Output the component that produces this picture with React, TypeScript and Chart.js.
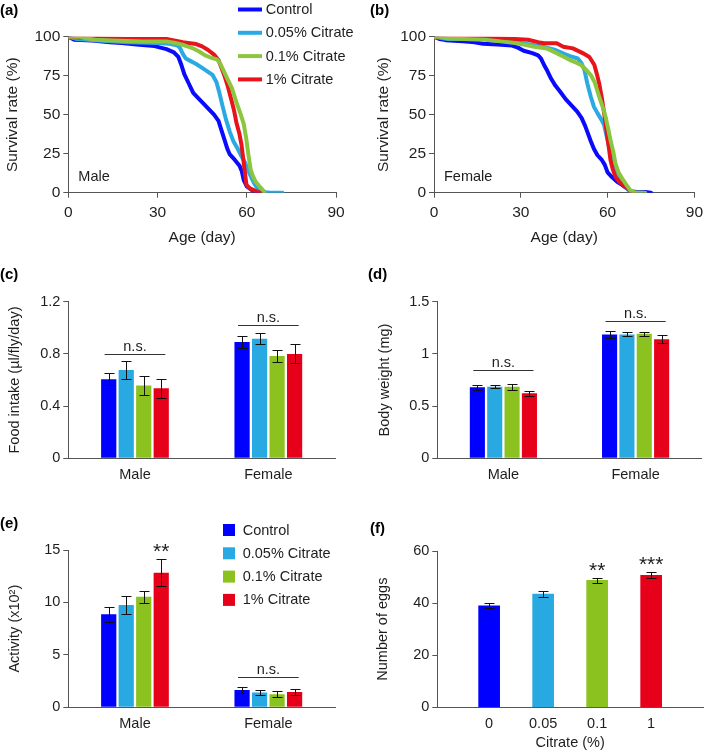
import React, { useEffect, useRef } from 'react';
import { Chart, registerables } from 'chart.js';

Chart.register(...registerables);

const FONT = '"Liberation Sans", Arial, Helvetica, sans-serif';
const TEXT = '#1e1e1e';
const AXIS = '#555555';
const FS = 14.5;
const TS = 14.5;
const SURV_FS = 15.5;

const seriesNames = ['Control', '0.05% Citrate', '0.1% Citrate', '1% Citrate'];
const seriesColors = ['#0000FF', '#29A9E1', '#8CC21F', '#E6001A'];
const lineColors = ['#0A0AFF', '#2AAAE2', '#8CC63F', '#E8141C'];

// ---------- survival (day, % alive) ----------
const dayTicks = [0, 30, 60, 90];
const survivalTicks = [0, 25, 50, 75, 100];

const maleControl = [[0,100],[2,98],[8,97.5],[14,96.5],[18,96],[23,95],[29,94],[31,93],[33,92],[35.5,90],[37,87],[38,82],[39,76],[40.5,70],[42,64],[44,60],[46.5,55],[49,50],[50.5,46],[51.5,40],[52.5,34],[53.5,28],[54.3,24.5],[56,21],[57.5,17.5],[58.3,14],[59,8],[60,4],[61.5,2],[63,0.6],[64.5,0]];
const maleCit005 = [[0,100],[3,98.5],[10,97.5],[20,96.5],[30,96],[34,95.5],[36.5,94.5],[37.5,93],[38.5,89],[39.5,86],[41,84.5],[43,82.5],[45,80],[47,77.5],[48.5,75.5],[49.8,71],[50.8,64],[51.8,56],[53,47],[54.3,39],[55.5,33],[57,28],[58.3,23],[59.5,19],[60.5,14],[61.5,10],[62.5,6],[63.5,3],[65,1],[66.5,0.3],[68,0],[72,0]];
const maleCit01 = [[0,100],[4,100],[6,99],[9,98],[15,97.5],[25,97],[33,97],[36,96],[39,94.5],[42,92.5],[44,90.5],[46,88],[48,86.5],[50,85.5],[51,83],[52,79],[53.5,73],[55,67],[56.5,58],[58,50],[59,44],[59.8,35],[60.5,25],[61.3,15],[62,11],[63,7],[64.5,3.5],[65.5,1.5],[66,0]];
const maleCit1 = [[0,100],[5,99.5],[12,99],[20,98.5],[33,98.5],[36,97.5],[38.5,96.5],[41,95.8],[43,95.3],[45,93.8],[47,91.5],[49,88.5],[50.5,85],[51.5,80],[52.5,75],[53.5,69],[54.9,59],[55.8,52],[56.5,45],[57.5,38],[58.2,31],[58.8,22],[59.3,14],[59.9,5],[61,2.8],[62.5,1.5],[64,0.3],[64.8,0]];

const femaleControl = [[0,100],[2,98.5],[4,97.8],[10,97],[14,96.5],[17,95.5],[22,95],[27,94.3],[29,93],[31,91],[34,89.5],[36,88],[37,86],[38,82],[39.2,78],[40.5,73],[42,68.5],[43.5,65],[45.5,60],[47.5,56],[49.5,52],[51,48],[52.2,43],[53.2,38],[54.2,33],[55.3,28],[56.5,24],[58,21],[59,18],[60,13],[61.5,10],[63.3,7],[65,5],[66.5,3],[68,1],[70,0.5],[73,0.5],[75,0]];
const femaleCit005 = [[0,100],[3,99],[5,98.5],[20,98.5],[27,97],[33,95],[38,93.5],[42,91.5],[45,89],[47,87.5],[49.7,86],[51,83],[52,78.6],[53,70],[54.2,61.5],[55.3,55],[56.5,51],[57.8,47],[58.8,43.4],[59.7,36],[60.5,29.5],[61.5,23],[62.7,16.7],[64,11],[65,8],[66.2,4],[67.2,1.7],[68.6,0]];
const femaleCit01 = [[0,100],[2,100],[4.3,99],[10,98.5],[17.8,98],[23,97],[28,96],[31,95],[34.7,93.6],[39,92.5],[42.4,89.4],[45,87],[47,85],[49,83.5],[50.8,81.9],[52.5,79],[54.2,75.4],[55.5,71],[57.1,61.5],[58.3,55],[59.3,48.7],[60.2,41],[61,33.8],[62,26],[62.7,18.8],[63.8,13],[65,9.2],[66.5,5],[67.8,1.7],[69.5,0.3],[73,0]];
const femaleCit1 = [[0,100],[5,99.5],[10,99.5],[22,99],[28,98.5],[32.5,98],[36,96.5],[38,95.8],[42.4,95.8],[44.7,93.6],[48,92.5],[51.4,89.5],[53.7,87],[55.4,82],[56.3,76],[57.1,70],[58,61],[58.8,51],[59.4,43],[59.9,36],[60.5,28],[61,21],[61.8,15],[62.7,10.3],[64,7],[65.5,4.9],[67,2.5],[68.3,0.6],[69,0]];

// ---------- bar panels: per series [Male, Female] ----------
const sexes = ['Male', 'Female'];

const intakeTicks = [0, 0.4, 0.8, 1.2];
const intakeMeans = [[0.605, 0.891], [0.677, 0.917], [0.557, 0.784], [0.536, 0.80]];
const intakeErrors = [[0.047, 0.048], [0.068, 0.040], [0.070, 0.048], [0.075, 0.073]];
const intakeNs = [0.797, 1.021];

const weightTicks = [0, 0.5, 1, 1.5];
const weightMeans = [[0.68, 1.187], [0.686, 1.187], [0.686, 1.194], [0.622, 1.14]];
const weightErrors = [[0.022, 0.032], [0.015, 0.020], [0.028, 0.020], [0.025, 0.040]];
const weightNs = [0.846, 1.315];

const activityTicks = [0, 5, 10, 15];
const activityMeans = [[8.87, 1.65], [9.75, 1.40], [10.55, 1.24], [12.84, 1.46]];
const activityErrors = [[0.73, 0.30], [0.90, 0.22], [0.57, 0.30], [1.30, 0.26]];
const activityStars = [['', ''], ['', ''], ['', ''], ['**', '']];
const activityNs = [null, 2.9];

const doseLabels = ['0', '0.05', '0.1', '1'];
const eggTicks = [0, 20, 40, 60];
const eggMeans = [39.0, 43.5, 48.7, 50.7];
const eggErrors = [1.0, 1.1, 1.0, 1.2];
const eggStars = ['', '', '**', '***'];

// ---------- helpers ----------
type Geo = { left: number; top: number; w: number; h: number; x0: number; x1: number; y0: number; y1: number; yTitleX: number; xTitleY?: number };

const font = (size: number, weight?: string) => ({ family: FONT, size, weight: weight as any });

const decorPlugin = {
  id: 'decor',
  afterDatasetsDraw(chart: any, _a: any, o: any) {
    const ctx = chart.ctx;
    const ys = chart.scales.y;
    const ca = chart.chartArea;
    ctx.save();
    chart.data.datasets.forEach((ds: any, di: number) => {
      if (!ds.errors) return;
      const meta = chart.getDatasetMeta(di);
      meta.data.forEach((el: any, i: number) => {
        const raw = ds.data[i];
        const v = typeof raw === 'number' ? raw : raw.y;
        const e = ds.errors[i];
        const x = Math.round(el.x) + 0.5;
        const t = Math.round(ys.getPixelForValue(v + e)) + 0.5;
        const b = Math.round(ys.getPixelForValue(v - e)) + 0.5;
        const cap = 5;
        ctx.strokeStyle = '#111';
        ctx.lineWidth = 1;
        ctx.beginPath();
        ctx.moveTo(x, t); ctx.lineTo(x, b);
        ctx.moveTo(x - cap, t); ctx.lineTo(x + cap, t);
        ctx.moveTo(x - cap, b); ctx.lineTo(x + cap, b);
        ctx.stroke();
        const s = ds.stars ? ds.stars[i] : '';
        if (s) {
          ctx.fillStyle = TEXT;
          ctx.font = `21px ${FONT}`;
          ctx.textAlign = 'center';
          ctx.textBaseline = 'alphabetic';
          ctx.fillText(s, el.x, t - 2);
        }
      });
    });
    if (o.ns) {
      const n = chart.data.datasets.length;
      const m0 = chart.getDatasetMeta(0);
      const m1 = chart.getDatasetMeta(n - 1);
      o.ns.forEach((lvl: number | null, ci: number) => {
        if (lvl == null) return;
        const a = m0.data[ci];
        const b = m1.data[ci];
        const xl = a.x - a.width / 2 + 3.5;
        const xr = b.x + b.width / 2 - 3.5;
        const y = Math.round(ys.getPixelForValue(lvl)) + 0.5;
        ctx.strokeStyle = '#333';
        ctx.lineWidth = 1;
        ctx.beginPath(); ctx.moveTo(xl, y); ctx.lineTo(xr, y); ctx.stroke();
        ctx.fillStyle = TEXT;
        ctx.font = `${TS}px ${FONT}`;
        ctx.textAlign = 'center';
        ctx.textBaseline = 'alphabetic';
        ctx.fillText('n.s.', (xl + xr) / 2, y - 4);
      });
    }
    if (o.inLabel) {
      ctx.fillStyle = TEXT;
      ctx.font = `${TS}px ${FONT}`;
      ctx.textAlign = 'left';
      ctx.textBaseline = 'middle';
      ctx.fillText(o.inLabel, ca.left + o.inDx, ca.bottom - o.inDy);
    }
    if (o.panel) {
      ctx.fillStyle = '#000';
      ctx.font = `bold 15px ${FONT}`;
      ctx.textAlign = 'left';
      ctx.textBaseline = 'middle';
      ctx.fillText(o.panel, o.px, o.py);
    }
    if (o.lineLegend) {
      const L = o.lineLegend;
      seriesNames.forEach((name, i) => {
        const y = L.y + i * L.dy;
        ctx.strokeStyle = lineColors[i];
        ctx.lineWidth = 4;
        ctx.lineCap = 'butt';
        ctx.beginPath(); ctx.moveTo(L.x, y); ctx.lineTo(L.x + L.len, y); ctx.stroke();
        ctx.fillStyle = TEXT;
        ctx.font = `${TS}px ${FONT}`;
        ctx.textAlign = 'left';
        ctx.textBaseline = 'middle';
        ctx.fillText(name, L.tx, y + 0.5);
      });
    }
    if (o.boxLegend) {
      const L = o.boxLegend;
      seriesNames.forEach((name, i) => {
        const y = L.y + i * L.dy;
        ctx.fillStyle = seriesColors[i];
        ctx.fillRect(L.x, y - L.size / 2, L.size, L.size);
        ctx.fillStyle = TEXT;
        ctx.font = `${TS}px ${FONT}`;
        ctx.textAlign = 'left';
        ctx.textBaseline = 'middle';
        ctx.fillText(name, L.tx, y + 0.5);
      });
    }
    ctx.restore();
  },
};

function yScale(g: Geo, ticks: number[], title: string, tickSize = FS, titleSize = TS) {
  const lh = titleSize * 1.2;
  return {
    type: 'linear',
    min: ticks[0],
    max: ticks[ticks.length - 1],
    afterBuildTicks: (s: any) => { s.ticks = ticks.map((v) => ({ value: v })); },
    ticks: { font: font(tickSize), color: TEXT, padding: 3, callback: (v: any) => String(v) },
    grid: { display: true, drawOnChartArea: false, drawTicks: true, tickLength: 5, color: AXIS, lineWidth: 1 },
    border: { display: true, color: AXIS, width: 1 },
    title: { display: true, text: title, font: font(titleSize), color: TEXT, padding: { top: g.yTitleX - g.left - lh / 2, bottom: 0 } },
    afterFit: (s: any) => { s.width = g.x0 - g.left; },
  };
}

function xTitle(g: Geo, text: string, size = TS) {
  const lh = size * 1.2;
  const pb = g.xTitleY != null ? Math.max(0, g.top + g.h - g.xTitleY - lh / 2) : 0;
  return { display: text !== '', text, font: font(size), color: TEXT, padding: { top: 0, bottom: pb } };
}

function baseOptions(g: Geo, scales: any, decor: any) {
  return {
    responsive: false,
    maintainAspectRatio: false,
    animation: false,
    devicePixelRatio: 1,
    layout: { padding: { left: 0, top: g.y0 - g.top, right: g.left + g.w - g.x1, bottom: 0 } },
    plugins: { legend: { display: false }, tooltip: { enabled: false }, title: { display: false }, decor },
    scales,
  };
}

function survivalConfig(g: Geo, series: number[][][], inLabel: string, decor: any) {
  const drawOrder = [3, 2, 0, 1];
  return {
    type: 'line',
    data: {
      datasets: series.map((pts, i) => ({
        label: seriesNames[i],
        data: pts.map(([x, y]) => ({ x, y })),
        borderColor: lineColors[i],
        backgroundColor: lineColors[i],
        borderWidth: 4,
        pointRadius: 0,
        tension: 0,
        fill: false,
        borderJoinStyle: 'round',
        borderCapStyle: 'round',
        order: drawOrder[i],
      })),
    },
    options: baseOptions(g, {
      x: {
        type: 'linear',
        min: dayTicks[0],
        max: dayTicks[dayTicks.length - 1],
        afterBuildTicks: (s: any) => { s.ticks = dayTicks.map((v) => ({ value: v })); },
        ticks: { font: font(SURV_FS), color: TEXT, padding: 6 },
        grid: { display: true, drawOnChartArea: false, drawTicks: true, tickLength: 5, color: AXIS },
        border: { display: true, color: AXIS, width: 1 },
        title: xTitle(g, 'Age (day)', SURV_FS),
        afterFit: (s: any) => { s.height = g.top + g.h - g.y1; },
      },
      y: yScale(g, survivalTicks, 'Survival rate (%)', SURV_FS, SURV_FS),
    }, { ...decor, inLabel, inDx: 10, inDy: 16 }),
    plugins: [decorPlugin],
  };
}

function groupedBarConfig(g: Geo, means: number[][], errors: number[][], ticks: number[], title: string, decor: any, stars?: string[][]) {
  return {
    type: 'bar',
    data: {
      labels: sexes,
      datasets: means.map((m, i) => ({
        label: seriesNames[i],
        data: m,
        backgroundColor: seriesColors[i],
        borderWidth: 0,
        barPercentage: 0.87,
        categoryPercentage: 0.525,
        errors: errors[i],
        stars: stars ? stars[i] : undefined,
      })),
    },
    options: baseOptions(g, {
      x: {
        type: 'category',
        offset: true,
        grid: { display: false, drawTicks: false, tickLength: 0 },
        border: { display: true, color: AXIS, width: 1 },
        ticks: { font: font(TS), color: TEXT, padding: 8 },
        afterFit: (s: any) => { s.height = g.top + g.h - g.y1; },
      },
      y: yScale(g, ticks, title),
    }, decor),
    plugins: [decorPlugin],
  };
}

function eggConfig(g: Geo, decor: any) {
  return {
    type: 'bar',
    data: {
      datasets: [{
        label: 'Number of eggs',
        data: eggMeans.map((v, i) => ({ x: i, y: v })),
        backgroundColor: seriesColors,
        borderWidth: 0,
        barThickness: 21,
        errors: eggErrors,
        stars: eggStars,
      }],
    },
    options: baseOptions(g, {
      x: {
        type: 'linear',
        min: -0.96,
        max: doseLabels.length - 1 + 0.96,
        offset: false,
        afterBuildTicks: (s: any) => { s.ticks = doseLabels.map((_, i) => ({ value: i })); },
        grid: { display: false, offset: false, drawTicks: false, tickLength: 0 },
        border: { display: true, color: AXIS, width: 1 },
        ticks: { font: font(TS), color: TEXT, padding: 8, callback: (v: any) => doseLabels[v] ?? '' },
        title: xTitle(g, 'Citrate (%)'),
        afterFit: (s: any) => { s.height = g.top + g.h - g.y1; },
      },
      y: yScale(g, eggTicks, 'Number of eggs'),
    }, decor),
    plugins: [decorPlugin],
  };
}

// ---------- geometry (page px) ----------
const geoA: Geo = { left: 0, top: 0, w: 355, h: 250, x0: 68.3, x1: 336, y0: 36.7, y1: 192.7, yTitleX: 13, xTitleY: 238 };
const geoB: Geo = { left: 355, top: 0, w: 354, h: 250, x0: 434, x1: 700, y0: 36.7, y1: 192.7, yTitleX: 383.5, xTitleY: 238 };
const geoC: Geo = { left: 0, top: 250, w: 355, h: 245, x0: 68.3, x1: 335, y0: 301.7, y1: 458.3, yTitleX: 14.5 };
const geoD: Geo = { left: 355, top: 250, w: 354, h: 245, x0: 437.3, x1: 701.7, y0: 301.7, y1: 458.3, yTitleX: 384.5 };
const geoE: Geo = { left: 0, top: 495, w: 355, h: 257, x0: 68.3, x1: 335, y0: 550, y1: 707.3, yTitleX: 15 };
const geoF: Geo = { left: 355, top: 495, w: 354, h: 257, x0: 437.3, x1: 703, y0: 551, y1: 707.3, yTitleX: 382.5, xTitleY: 745.5 };

function ChartCanvas({ geo, make }: { geo: Geo; make: () => any }) {
  const ref = useRef<HTMLCanvasElement>(null);
  useEffect(() => {
    if (!ref.current) return;
    const chart = new Chart(ref.current, make());
    return () => chart.destroy();
  }, []);
  return (
    <canvas
      ref={ref}
      width={geo.w}
      height={geo.h}
      style={{ position: 'absolute', left: geo.left, top: geo.top, width: geo.w, height: geo.h }}
    />
  );
}

export default function App() {
  return (
    <div style={{ position: 'absolute', left: 0, top: 0, width: 709, height: 752, background: '#fff', overflow: 'hidden' }}>
      <ChartCanvas
        geo={geoA}
        make={() => survivalConfig(geoA, [maleControl, maleCit005, maleCit01, maleCit1], 'Male', {
          panel: '(a)', px: 0, py: 11,
          lineLegend: { x: 238, y: 9.5, dy: 23.3, len: 24, tx: 265.7 },
        })}
      />
      <ChartCanvas
        geo={geoB}
        make={() => survivalConfig(geoB, [femaleControl, femaleCit005, femaleCit01, femaleCit1], 'Female', {
          panel: '(b)', px: 15, py: 11,
        })}
      />
      <ChartCanvas
        geo={geoC}
        make={() => groupedBarConfig(geoC, intakeMeans, intakeErrors, intakeTicks, 'Food intake (µl/fly/day)', {
          panel: '(c)', px: 0, py: 25, ns: intakeNs,
        })}
      />
      <ChartCanvas
        geo={geoD}
        make={() => groupedBarConfig(geoD, weightMeans, weightErrors, weightTicks, 'Body weight (mg)', {
          panel: '(d)', px: 13, py: 25, ns: weightNs,
        })}
      />
      <ChartCanvas
        geo={geoE}
        make={() => groupedBarConfig(geoE, activityMeans, activityErrors, activityTicks, 'Activity (x10²)', {
          panel: '(e)', px: 0, py: 29, ns: activityNs,
          boxLegend: { x: 223, y: 35, dy: 23.3, size: 12, tx: 242.7 },
        }, activityStars)}
      />
      <ChartCanvas
        geo={geoF}
        make={() => eggConfig(geoF, { panel: '(f)', px: 15, py: 34 })}
      />
    </div>
  );
}
